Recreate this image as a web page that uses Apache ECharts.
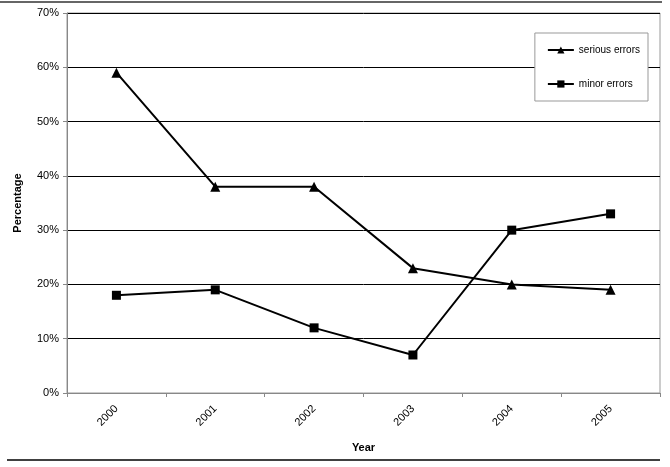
<!DOCTYPE html>
<html><head><meta charset="utf-8">
<script src="https://cdn.jsdelivr.net/npm/echarts@6/dist/echarts.min.js"></script>
<style>html,body{margin:0;padding:0;background:#fff}#c{width:670px;height:467px}</style>
</head><body><div id="c"></div>
<script>
const years = ['2000','2001','2002','2003','2004','2005'];
const seriousErrors = [59, 38, 38, 23, 20, 19];
const minorErrors = [18, 19, 12, 7, 30, 33];
const yTicks = [0, 10, 20, 30, 40, 50, 60, 70];

const chart = echarts.init(document.getElementById('c'));
const font = 'Liberation Sans, Arial, sans-serif';
chart.setOption({
  animation: false,
  textStyle: {fontFamily: font},
  grid: {left: 67, right: 10, top: 13, bottom: 74, show: true, borderColor: '#999', borderWidth: 1},
  xAxis: {
    type: 'category', data: years, boundaryGap: true,
    name: 'Year', nameLocation: 'middle', nameGap: 49,
    nameTextStyle: {fontWeight: 'bold', fontSize: 11, color: '#000', fontFamily: font},
    axisLine: {lineStyle: {color: '#888'}},
    axisTick: {show: true, alignWithLabel: false, length: 4, lineStyle: {color: '#888'}},
    axisLabel: {rotate: 45, fontSize: 11, color: '#000', margin: 14, fontFamily: font},
    splitLine: {show: false}
  },
  yAxis: {
    type: 'value', min: 0, max: 70, interval: 10,
    name: 'Percentage', nameLocation: 'middle', nameGap: 44,
    nameTextStyle: {fontWeight: 'bold', fontSize: 11, color: '#000', fontFamily: font},
    axisLine: {show: true, lineStyle: {color: '#888'}},
    axisTick: {show: true, length: 4, lineStyle: {color: '#888'}},
    axisLabel: {fontSize: 11, color: '#000', formatter: v => v + '%', fontFamily: font},
    splitLine: {show: true, lineStyle: {color: '#000', width: 1}}
  },
  legend: {
    right: 22, top: 33, orient: 'vertical', width: 115,
    backgroundColor: '#fff', borderColor: '#999', borderWidth: 1,
    padding: [12, 8, 12, 12], itemGap: 24, itemWidth: 26, itemHeight: 9,
    textStyle: {fontSize: 10, color: '#000', fontFamily: font},
    data: ['serious errors', 'minor errors']
  },
  series: [
    {name: 'serious errors', type: 'line', data: seriousErrors, symbol: 'triangle', symbolSize: 10,
     itemStyle: {color: '#000'}, lineStyle: {color: '#000', width: 2}, z: 5},
    {name: 'minor errors', type: 'line', data: minorErrors, symbol: 'rect', symbolSize: 9,
     itemStyle: {color: '#000'}, lineStyle: {color: '#000', width: 2}, z: 5}
  ],
  graphic: [
    {type: 'line', shape: {x1: 0, y1: 2, x2: 662, y2: 2}, style: {stroke: '#333', lineWidth: 1.5}},
    {type: 'line', shape: {x1: 7, y1: 460, x2: 660, y2: 460}, style: {stroke: '#000', lineWidth: 1.5}}
  ]
});
</script></body></html>
